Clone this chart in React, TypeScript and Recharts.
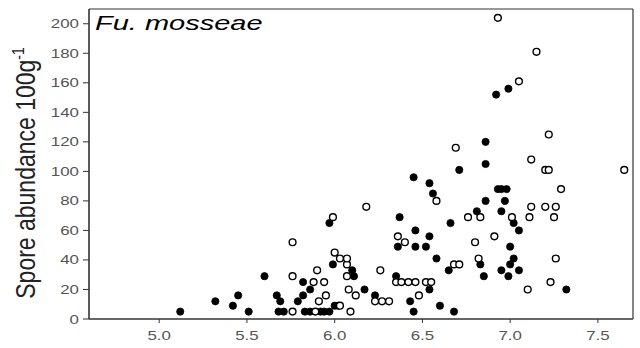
import React from "react";
import { ScatterChart, Scatter, XAxis, YAxis, ReferenceLine, Label } from "recharts";

const filledX = [5.12,5.32,5.42,5.45,5.51,5.60,5.67,5.69,5.68,5.71,5.82,5.82,5.79,5.86,5.83,5.86,5.92,5.94,5.97,6.00,6.02,5.97,5.99,6.10,6.11,6.17,6.23,6.43,6.45,6.68,6.60,6.54,6.35,6.65,6.36,6.46,6.52,6.54,6.58,6.37,6.46,6.66,6.45,6.54,6.56,6.71,6.81,6.86,6.83,6.85,6.86,6.86,6.92,6.99,6.93,6.95,6.98,6.97,6.95,7.02,7.05,7.00,7.02,7.00,6.95,7.05,6.99,7.32];
const filledY = [5,12,9,16,5,29,16,12,5,5,25,16,12,20,5,5,5,5,5,9,9,65,37,33,29,20,16,12,5,5,9,20,29,33,49,49,49,56,41,69,60,65,96,92,85,101,73,80,37,29,120,105,152,156,88,88,88,80,73,65,60,49,41,37,33,33,29,20];

const openX = [5.76,5.76,5.76,5.89,5.88,5.90,5.91,5.94,5.95,6.03,6.09,6.08,6.12,6.07,6.07,6.07,6.03,6.00,5.99,6.18,6.26,6.23,6.27,6.31,6.36,6.40,6.35,6.38,6.42,6.46,6.52,6.55,6.48,6.58,6.69,6.68,6.71,6.76,6.83,6.80,6.82,6.91,6.93,7.05,7.15,7.22,7.12,7.20,7.22,7.65,7.29,7.12,7.20,7.26,7.01,7.11,7.25,7.26,7.23,7.10];
const openY = [52,29,5,5,25,33,12,25,16,9,5,20,16,29,37,41,41,45,69,76,33,12,12,12,56,52,25,25,25,25,25,25,16,80,116,37,37,69,69,52,41,56,204,161,181,125,108,101,101,101,88,76,76,76,69,69,69,41,25,20];

const xTicks = [5.0, 5.5, 6.0, 6.5, 7.0, 7.5];
const yTicks = [0, 20, 40, 60, 80, 100, 120, 140, 160, 180, 200];

const filled = filledX.map((x, i) => ({ x, y: filledY[i] }));
const open = openX.map((x, i) => ({ x, y: openY[i] }));

const FONT = "'Liberation Sans', Arial, sans-serif";

const YTick = (p: any) => (
  <g transform={`translate(${p.x},${p.y})`}>
    <text textAnchor="end" dy="0.36em" fontSize={12.5} fill="#555" fontFamily={FONT} transform="scale(1.35,1)">
      {p.payload.value}
    </text>
  </g>
);

const XTick = (p: any) => (
  <g transform={`translate(${p.x},${p.y})`}>
    <text textAnchor="middle" dy="0.71em" fontSize={12.5} fill="#555" fontFamily={FONT} transform="scale(1.35,1)">
      {Number(p.payload.value).toFixed(1)}
    </text>
  </g>
);

const Filled = (p: any) => <circle cx={p.cx} cy={p.cy} r={3.6} fill="#000" stroke="#000" strokeWidth={0.8} />;
const Open = (p: any) => <circle cx={p.cx} cy={p.cy} r={3.4} fill="#fff" stroke="#000" strokeWidth={1.4} />;

const Texts = () => (
  <g>
    <text transform="translate(35,173) rotate(-90) scale(1,1.2)" textAnchor="middle" fontSize={23} fill="#222" fontFamily={FONT}>
      Spore abundance 100g<tspan dy={-9} fontSize={14}>-1</tspan>
    </text>
    <text transform="translate(95,30) scale(1.45,1)" fontSize={20} fontStyle="italic" fill="#000" fontFamily={FONT}>
      Fu. mosseae
    </text>
  </g>
);

export default function App() {
  return (
    <div style={{ position: "absolute", left: 0, top: 0, width: 640, height: 348, background: "#fff" }}>
      <ScatterChart width={640} height={348} margin={{ top: 9, right: 7, bottom: 0, left: 0 }}>
        <XAxis
          type="number"
          dataKey="x"
          domain={[4.6, 7.7]}
          ticks={xTicks}
          height={29}
          tick={<XTick />}
          tickSize={4}
          tickMargin={8}
          axisLine={{ stroke: "#333", strokeWidth: 1.6 }}
          tickLine={{ stroke: "#333" }}
          allowDataOverflow
        />
        <YAxis
          type="number"
          dataKey="y"
          domain={[0, 210]}
          ticks={yTicks}
          width={89}
          tick={<YTick />}
          tickSize={6}
          tickMargin={4}
          axisLine={{ stroke: "#333", strokeWidth: 1.6 }}
          tickLine={{ stroke: "#333" }}
          allowDataOverflow
        >
          <Label content={() => <Texts />} />
        </YAxis>
        <ReferenceLine y={210} stroke="#333" strokeWidth={1.2} />
        <ReferenceLine x={7.7} stroke="#333" strokeWidth={1.2} />
        <Scatter data={filled} shape={<Filled />} isAnimationActive={false} />
        <Scatter data={open} shape={<Open />} isAnimationActive={false} />
      </ScatterChart>
    </div>
  );
}
